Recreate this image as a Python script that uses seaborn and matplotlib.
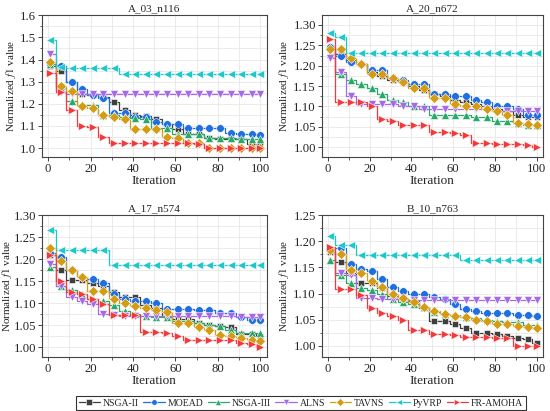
import numpy as np
import pandas as pd
import matplotlib.pyplot as plt
import seaborn as sns
from matplotlib.ticker import MultipleLocator, AutoMinorLocator

# iterations where markers are drawn
iters = [1, 6, 11, 16, 21, 26, 31, 36, 41, 46, 51, 56, 61, 66, 71, 76, 81, 86, 91, 96, 100]

algos = ["NSGA-II", "MOEAD", "NSGA-III", "ALNS", "TAVNS", "PyVRP", "FR-AMOHA"]
colors = ["#3f3f3f", "#1f6fe0", "#2aa86a", "#a56be6", "#d49c12", "#1fc8c8", "#f23a3c"]
markers = ["s", "o", "^", "v", "D", "<", ">"]

# A_03_n116
a03 = {
    "NSGA-II":  [1.37, 1.35, 1.30, 1.245, 1.24, 1.23, 1.21, 1.17, 1.15, 1.145, 1.13, 1.11, 1.085, 1.065, 1.065, 1.045, 1.04, 1.04, 1.04, 1.02, 1.02],
    "MOEAD":    [1.38, 1.37, 1.30, 1.265, 1.24, 1.225, 1.16, 1.16, 1.14, 1.14, 1.12, 1.11, 1.11, 1.09, 1.09, 1.09, 1.09, 1.07, 1.065, 1.065, 1.06],
    "NSGA-III": [1.38, 1.27, 1.215, 1.195, 1.195, 1.15, 1.15, 1.14, 1.135, 1.13, 1.09, 1.09, 1.065, 1.065, 1.065, 1.045, 1.045, 1.045, 1.04, 1.04, 1.04],
    "ALNS":     [1.425, 1.255, 1.245, 1.245, 1.245, 1.245, 1.245, 1.245, 1.245, 1.245, 1.245, 1.245, 1.245, 1.245, 1.245, 1.245, 1.245, 1.245, 1.245, 1.245, 1.245],
    "TAVNS":    [1.39, 1.28, 1.26, 1.19, 1.18, 1.15, 1.14, 1.13, 1.085, 1.085, 1.085, 1.05, 1.045, 1.025, 1.025, 1.0, 1.0, 1.0, 1.0, 1.0, 1.0],
    "PyVRP":    [1.49, 1.365, 1.36, 1.36, 1.36, 1.36, 1.36, 1.335, 1.335, 1.335, 1.335, 1.335, 1.335, 1.335, 1.335, 1.335, 1.335, 1.335, 1.335, 1.335, 1.335],
    "FR-AMOHA": [1.34, 1.255, 1.17, 1.10, 1.095, 1.05, 1.025, 1.025, 1.025, 1.025, 1.025, 1.025, 1.025, 1.025, 1.02, 1.0, 1.0, 1.0, 1.0, 1.0, 1.0],
}

# A_20_n672
a20 = {
    "NSGA-II":  [1.24, 1.23, 1.215, 1.205, 1.185, 1.175, 1.165, 1.16, 1.15, 1.14, 1.13, 1.125, 1.115, 1.11, 1.105, 1.10, 1.095, 1.09, 1.08, 1.075, 1.075],
    "MOEAD":    [1.245, 1.225, 1.21, 1.205, 1.19, 1.19, 1.17, 1.165, 1.155, 1.155, 1.13, 1.13, 1.125, 1.125, 1.115, 1.11, 1.10, 1.10, 1.095, 1.08, 1.08],
    "NSGA-III": [1.23, 1.18, 1.165, 1.155, 1.145, 1.13, 1.115, 1.11, 1.10, 1.10, 1.08, 1.08, 1.08, 1.078, 1.075, 1.075, 1.065, 1.065, 1.06, 1.055, 1.055],
    "ALNS":     [1.22, 1.185, 1.125, 1.105, 1.105, 1.105, 1.105, 1.10, 1.10, 1.095, 1.095, 1.095, 1.095, 1.095, 1.095, 1.095, 1.09, 1.09, 1.09, 1.09, 1.09],
    "TAVNS":    [1.24, 1.24, 1.22, 1.205, 1.18, 1.18, 1.17, 1.16, 1.145, 1.145, 1.12, 1.12, 1.105, 1.10, 1.10, 1.095, 1.09, 1.08, 1.06, 1.058, 1.055],
    "PyVRP":    [1.28, 1.27, 1.232, 1.232, 1.232, 1.232, 1.232, 1.232, 1.232, 1.232, 1.232, 1.232, 1.232, 1.232, 1.232, 1.232, 1.232, 1.232, 1.232, 1.232, 1.232],
    "FR-AMOHA": [1.265, 1.11, 1.11, 1.11, 1.10, 1.07, 1.065, 1.055, 1.055, 1.055, 1.037, 1.037, 1.035, 1.03, 1.01, 1.01, 1.007, 1.007, 1.007, 1.005, 1.0],
}

# A_17_n574
a17 = {
    "NSGA-II":  [1.21, 1.175, 1.153, 1.153, 1.145, 1.14, 1.125, 1.115, 1.115, 1.095, 1.09, 1.07, 1.065, 1.065, 1.055, 1.05, 1.047, 1.045, 1.03, 1.03, 1.025],
    "MOEAD":    [1.215, 1.205, 1.175, 1.16, 1.155, 1.145, 1.12, 1.11, 1.105, 1.105, 1.10, 1.087, 1.087, 1.087, 1.085, 1.085, 1.077, 1.077, 1.068, 1.062, 1.062],
    "NSGA-III": [1.183, 1.14, 1.13, 1.12, 1.11, 1.105, 1.095, 1.083, 1.075, 1.07, 1.068, 1.068, 1.06, 1.06, 1.055, 1.05, 1.047, 1.04, 1.033, 1.033, 1.033],
    "ALNS":     [1.19, 1.14, 1.115, 1.105, 1.098, 1.075, 1.073, 1.07, 1.07, 1.07, 1.07, 1.07, 1.07, 1.07, 1.07, 1.07, 1.07, 1.07, 1.068, 1.068, 1.068],
    "TAVNS":    [1.225, 1.195, 1.175, 1.16, 1.128, 1.128, 1.11, 1.10, 1.093, 1.09, 1.085, 1.08, 1.055, 1.055, 1.045, 1.038, 1.028, 1.025, 1.02, 1.015, 1.013],
    "PyVRP":    [1.267, 1.222, 1.222, 1.222, 1.222, 1.222, 1.187, 1.187, 1.187, 1.187, 1.187, 1.187, 1.187, 1.187, 1.187, 1.187, 1.187, 1.187, 1.187, 1.187, 1.187],
    "FR-AMOHA": [1.21, 1.15, 1.125, 1.12, 1.11, 1.098, 1.073, 1.073, 1.073, 1.035, 1.035, 1.033, 1.025, 1.015, 1.015, 1.015, 1.015, 1.015, 1.01, 1.008, 1.0],
}

# B_10_n763
b10 = {
    "NSGA-II":  [1.18, 1.16, 1.14, 1.12, 1.12, 1.11, 1.095, 1.09, 1.085, 1.073, 1.048, 1.048, 1.042, 1.034, 1.024, 1.024, 1.022, 1.018, 1.014, 1.012, 1.006],
    "MOEAD":    [1.185, 1.187, 1.157, 1.147, 1.144, 1.128, 1.113, 1.104, 1.099, 1.099, 1.094, 1.09, 1.08, 1.07, 1.067, 1.063, 1.063, 1.063, 1.058, 1.058, 1.056],
    "NSGA-III": [1.164, 1.135, 1.12, 1.11, 1.106, 1.10, 1.09, 1.083, 1.08, 1.075, 1.065, 1.06, 1.058, 1.055, 1.053, 1.05, 1.047, 1.045, 1.045, 1.04, 1.04],
    "ALNS":     [1.18, 1.14, 1.135, 1.092, 1.092, 1.09, 1.09, 1.09, 1.088, 1.088, 1.088, 1.088, 1.088, 1.088, 1.088, 1.088, 1.088, 1.088, 1.088, 1.088, 1.088],
    "TAVNS":    [1.183, 1.175, 1.146, 1.14, 1.125, 1.113, 1.099, 1.092, 1.084, 1.075, 1.066, 1.06, 1.057, 1.055, 1.05, 1.048, 1.042, 1.042, 1.038, 1.036, 1.034],
    "PyVRP":    [1.21, 1.193, 1.193, 1.174, 1.174, 1.174, 1.174, 1.174, 1.174, 1.174, 1.174, 1.174, 1.174, 1.165, 1.165, 1.165, 1.165, 1.165, 1.165, 1.165, 1.165],
    "FR-AMOHA": [1.19, 1.108, 1.108, 1.097, 1.072, 1.063, 1.056, 1.05, 1.03, 1.03, 1.023, 1.023, 1.02, 1.017, 1.016, 1.016, 1.015, 1.014, 1.0, 1.0, 1.0],
}

panels = [
    ("A_03_n116", a03, (0.96, 1.6), 0.1, "%.1f"),
    ("A_20_n672", a20, (0.976, 1.324), 0.05, "%.2f"),
    ("A_17_n574", a17, (0.977, 1.30), 0.05, "%.2f"),
    ("B_10_n763", b10, (0.978, 1.25), 0.05, "%.2f"),
]

sns.set_theme(style="white")
plt.rcParams["font.family"] = ["Liberation Serif", "DejaVu Serif"]
plt.rcParams["mathtext.fontset"] = "stix"

fig = plt.figure(figsize=(5.5, 4.11), dpi=100)
boxes = [
    [0.076, 0.618, 0.409, 0.345],
    [0.585, 0.618, 0.402, 0.345],
    [0.076, 0.131, 0.409, 0.345],
    [0.585, 0.131, 0.402, 0.345],
]
label_x = [-0.105, -0.14, -0.125, -0.14]

palette = dict(zip(algos, colors))
marker_map = dict(zip(algos, markers))
msize = {"s": 5, "o": 5.5, "^": 6, "v": 6, "D": 5, "<": 6, ">": 6}

for i, (box, (title, data, ylim, step, fmt)) in enumerate(zip(boxes, panels)):
    ax = fig.add_axes(box)
    rows = []
    for a in algos:
        for it, v in zip(iters, data[a]):
            rows.append({"Iteration": it, "value": v, "algo": a})
    df = pd.DataFrame(rows)

    sns.lineplot(data=df, x="Iteration", y="value", hue="algo", style="algo",
                 hue_order=algos, style_order=algos, palette=palette,
                 markers=marker_map, dashes=False, markersize=5,
                 markeredgewidth=0.4, linewidth=0.9, drawstyle="steps-mid",
                 ax=ax, legend=(i == 0))
    for ln, mk in zip(ax.lines, markers):
        ln.set_markersize(msize[mk])

    ax.set_xlim(-3, 103)
    ax.set_ylim(*ylim)
    ax.xaxis.set_major_locator(MultipleLocator(20))
    ax.xaxis.set_minor_locator(AutoMinorLocator(2))
    ax.yaxis.set_major_locator(MultipleLocator(step))
    ax.yaxis.set_minor_locator(AutoMinorLocator(2))
    ax.yaxis.set_major_formatter(plt.FormatStrFormatter(fmt))
    ax.grid(True, which="both", color="#e8e8e8", linewidth=0.6)
    ax.set_axisbelow(True)
    for s in ax.spines.values():
        s.set_color("#444444")
        s.set_linewidth(0.8)
    ax.tick_params(which="major", direction="out", length=3, width=0.7,
                   labelsize=9.2, color="#444444", left=True, bottom=True, pad=1.2)
    ax.tick_params(which="minor", direction="out", length=1.8, width=0.6,
                   color="#444444", left=True, bottom=True)
    ax.set_title(title, fontsize=8, pad=3)
    ax.set_xlabel("Iteration", fontsize=9.5, labelpad=0)
    ax.set_ylabel("Normalized $f1$ value", fontsize=8)
    ax.yaxis.set_label_coords(label_x[i], 0.5)

    if i == 0:
        handles, labels = ax.get_legend_handles_labels()
        ax.get_legend().remove()

for h in handles:
    h.set_markersize(4)
    h.set_linewidth(0.9)

leg = fig.legend(handles, labels, loc="lower center", ncol=7,
                 bbox_to_anchor=(0.547, 0.0), fontsize=7, frameon=True,
                 fancybox=False, edgecolor="black", handlelength=2.2,
                 handletextpad=0.3, columnspacing=0.45, borderpad=0.25,
                 borderaxespad=0.1)
leg.get_frame().set_linewidth(0.8)

fig.savefig("out.png", dpi=100)
